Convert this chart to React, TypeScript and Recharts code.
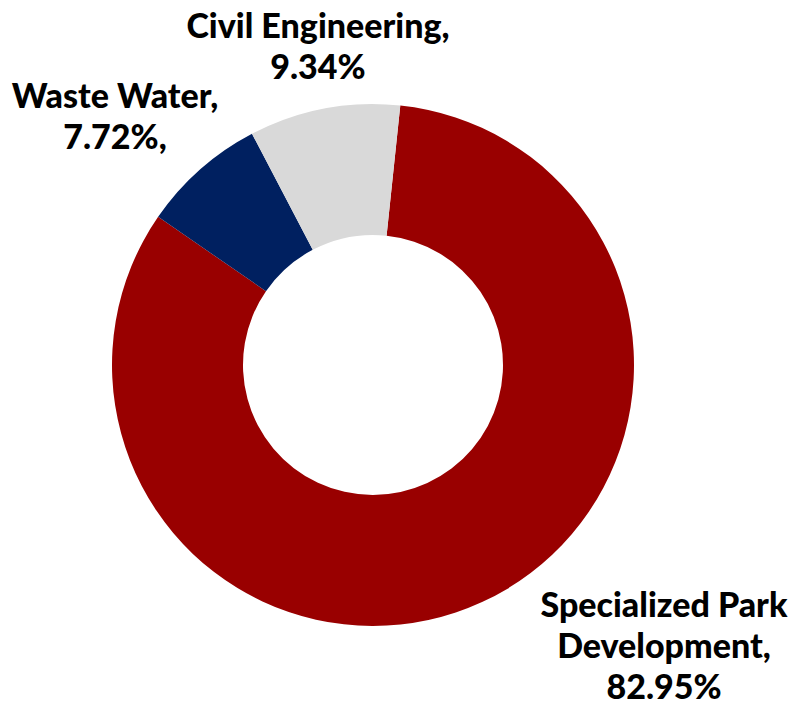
import { PieChart, Pie, Cell } from "recharts";

const categories = ["Specialized Park Development", "Waste Water", "Civil Engineering"];
const shares = [82.95, 7.72, 9.34];
const colors = ["#990000", "#002060", "#D9D9D9"];
// label text lines, one entry per slice
const labelLines = [
  ["Specialized Park", "Development,", "82.95%"],
  ["Waste Water,", "7.72%,"],
  ["Civil Engineering,", "9.34%"],
];

// where each label block sits, relative to the pie centre (first baseline)
const labelOffsets = [
  { dx: 291, dy: 252 },
  { dx: -258, dy: -257 },
  { dx: -55, dy: -327 },
];

const data = categories.map((name, i) => ({ name, value: shares[i] }));

const LINE_H = 41;

function renderLabel(props: any) {
  const { cx, cy, index } = props;
  const off = labelOffsets[index];
  const x = cx + off.dx;
  const y = cy + off.dy;
  return (
    <text
      x={x}
      y={y}
      textAnchor="middle"
      fill="#000"
      style={{ fontFamily: "Lato, 'Open Sans', sans-serif", fontWeight: 900, fontSize: 34 }}
    >
      {labelLines[index].map((line, k) => (
        <tspan key={k} x={x} y={y + k * LINE_H}>
          {line}
        </tspan>
      ))}
    </text>
  );
}

export default function App() {
  return (
    <div style={{ position: "absolute", left: 0, top: 0, width: 794, height: 710 }}>
      <PieChart width={794} height={710} margin={{ top: 0, right: 0, bottom: 0, left: 0 }}>
        <Pie
          data={data}
          dataKey="value"
          nameKey="name"
          cx={373}
          cy={365}
          innerRadius={130}
          outerRadius={261}
          startAngle={84}
          endAngle={-276}
          stroke="none"
          label={renderLabel}
          labelLine={false}
          isAnimationActive={false}
        >
          {data.map((d, i) => (
            <Cell key={d.name} fill={colors[i]} />
          ))}
        </Pie>
      </PieChart>
    </div>
  );
}
